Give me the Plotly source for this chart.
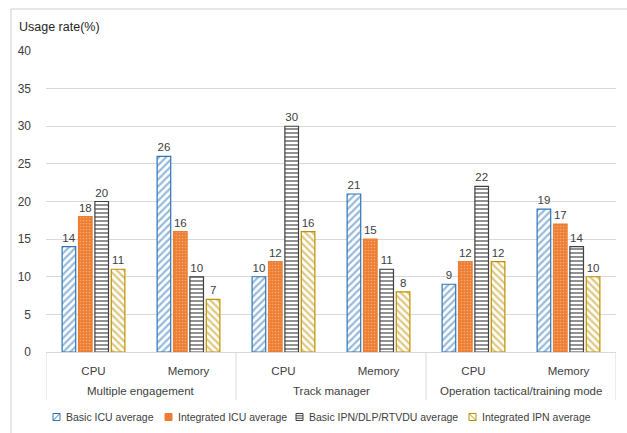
import plotly.graph_objects as go

groups = ["Multiple engagement", "Multiple engagement", "Track manager", "Track manager",
          "Operation tactical/training mode", "Operation tactical/training mode"]
subs = ["CPU", "Memory", "CPU", "Memory", "CPU", "Memory"]

basic_icu = [14, 26, 10, 21, 9, 19]
integrated_icu = [18, 16, 12, 15, 12, 17]
basic_ipn = [20, 10, 30, 11, 22, 14]
integrated_ipn = [11, 7, 16, 8, 12, 10]

series_names = ["Basic ICU average", "Integrated ICU average",
                "Basic IPN/DLP/RTVDU average", "Integrated IPN average"]

# figure geometry (pixels)
W, H = 627, 433
L, R, T, B = 46, 11, 51, 81
PW, PH = W - L - R, H - T - B


def px(x):
    return (x - L) / PW


def py(y):
    return (H - B - y) / PH


cats = [f"{g}|{s}" for g, s in zip(groups, subs)]

styles = [
    (dict(shape="/", fgcolor="#2e75b6", bgcolor="white", size=5, solidity=0.45), "#2e75b6"),
    (dict(shape=".", fgcolor="#fbd5bb", bgcolor="#ed7d31", size=3, solidity=0.25), "#ed7d31"),
    (dict(shape="-", fgcolor="#262626", bgcolor="white", size=4, solidity=0.5), "#404040"),
    (dict(shape="\\", fgcolor="#bf9000", bgcolor="white", size=5, solidity=0.45), "#bf9000"),
]
values = [basic_icu, integrated_icu, basic_ipn, integrated_ipn]

fig = go.Figure()
for name, vals, (pat, line) in zip(series_names, values, styles):
    fig.add_trace(go.Bar(
        name=name, x=cats, y=vals,
        marker=dict(color="white", pattern=pat, line=dict(color=line, width=1.2)),
        text=[str(v) for v in vals], textposition="outside", cliponaxis=False,
        textfont=dict(size=11.5, color="#404040"),
    ))

annotations = [dict(text="Usage rate(%)", xref="paper", yref="paper", x=px(17), y=py(27),
                    xanchor="left", yanchor="middle", showarrow=False,
                    font=dict(size=12.5, color="#262626"))]
shapes = [dict(type="line", xref="paper", yref="paper", x0=px(11), x1=px(640), y0=py(9), y1=py(9),
               line=dict(color="#d0d0d0", width=1), layer="above"),
          dict(type="line", xref="paper", yref="paper", x0=px(11), x1=px(11), y0=py(9), y1=py(445),
               line=dict(color="#d0d0d0", width=1), layer="above")]

# group labels and dividers
bounds = [-0.5]
starts = [0]
for i in range(1, len(groups)):
    if groups[i] != groups[i - 1]:
        bounds.append(i - 0.5)
        starts.append(i)
bounds.append(len(groups) - 0.5)
for k, s in enumerate(starts):
    mid = (bounds[k] + bounds[k + 1]) / 2
    annotations.append(dict(text=groups[s], xref="x", yref="paper", x=mid, y=py(391),
                            xanchor="center", yanchor="middle", showarrow=False,
                            font=dict(size=11.5, color="#404040")))
for b in bounds:
    shapes.append(dict(type="line", xref="x", yref="paper", x0=b, x1=b, y0=0, y1=py(400),
                       line=dict(color="#d9d9d9", width=1)))

# custom legend
leg_y = 417
leg_text_x = [64, 176, 307, 480]
for (pat, line), name, tx in zip(styles, series_names, leg_text_x):
    x0, x1 = tx - 11, tx - 4
    y0, y1 = leg_y - 3.5, leg_y + 3.5
    fill = "#ed7d31" if pat["shape"] == "." else "white"
    shapes.append(dict(type="rect", xref="paper", yref="paper", x0=px(x0), x1=px(x1),
                       y0=py(y1), y1=py(y0), line=dict(color=line, width=1), fillcolor=fill))
    if pat["shape"] == "/":
        path = f"M {px(x0)} {py(y1)} L {px(x1)} {py(y0)}"
    elif pat["shape"] == "\\":
        path = f"M {px(x0)} {py(y0)} L {px(x1)} {py(y1)}"
    elif pat["shape"] == "-":
        path = (f"M {px(x0)} {py(leg_y - 1.2)} L {px(x1)} {py(leg_y - 1.2)} "
                f"M {px(x0)} {py(leg_y + 1.2)} L {px(x1)} {py(leg_y + 1.2)}")
    else:
        path = None
    if path:
        shapes.append(dict(type="path", xref="paper", yref="paper", path=path,
                           line=dict(color=line, width=1)))
    annotations.append(dict(text=name, xref="paper", yref="paper", x=px(tx), y=py(leg_y),
                            xanchor="left", yanchor="middle", showarrow=False,
                            font=dict(size=10.5, color="#404040")))

fig.update_layout(
    width=W, height=H,
    margin=dict(l=L, r=R, t=T, b=B),
    paper_bgcolor="white", plot_bgcolor="white",
    font=dict(family="Liberation Sans", size=12, color="#404040"),
    barmode="group", bargap=0.31, bargroupgap=0.17,
    showlegend=False,
    annotations=annotations,
    shapes=shapes,
)
fig.update_yaxes(range=[0, 40], dtick=5, showgrid=True, gridcolor="#d9d9d9", gridwidth=1,
                 zeroline=False, showline=False, tickfont=dict(size=12), ticks="",
                 ticklabelstandoff=14, automargin=False)
fig.update_xaxes(type="category", range=[-0.5, len(cats) - 0.5],
                 tickvals=cats, ticktext=subs,
                 showline=True, linecolor="#d9d9d9", linewidth=1,
                 tickfont=dict(size=11.5), ticks="", ticklabelstandoff=8, automargin=False)

fig.write_html("out.html", config={"displayModeBar": False},
               post_script="document.body.style.margin='0';")
